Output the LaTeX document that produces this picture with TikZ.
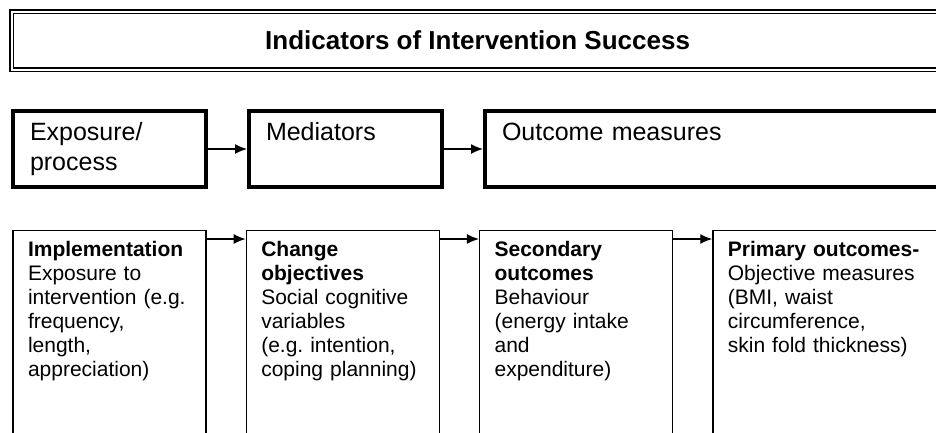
\documentclass[tikz,border=0pt]{standalone}
\usepackage{fontspec}
\setmainfont{Liberation Sans}
\usetikzlibrary{positioning, arrows.meta}
\tikzstyle{header} = [rectangle, draw=black, line width=1.2pt, double, double distance=2pt, minimum width=932pt, minimum height=58pt, inner sep=0pt, font=\bfseries\fontsize{26}{30}\selectfont]
\tikzstyle{stage} = [rectangle, draw=black, line width=4pt, minimum width=193pt, text width=159pt, inner xsep=17pt, inner ysep=0pt, text height=29pt, text depth=47pt, align=left, font=\frenchspacing\fontsize{25}{30}\selectfont]
\tikzstyle{indicator} = [rectangle, draw=black, line width=1.3pt, minimum width=193pt, text width=163pt, inner xsep=15pt, inner ysep=0pt, text height=26pt, text depth=220pt, align=left, font=\frenchspacing\fontsize{21}{24}\selectfont]
\tikzstyle{arrow} = [-{Latex[length=12pt,width=10pt]}, line width=1.4pt]
\begin{document}
\begin{tikzpicture}[x=1pt, y=1pt]
	\useasboundingbox (0,0) rectangle (936,-432);
	\node (title) [header, anchor=north west] at (11,-11) {Indicators of Intervention Success};
	
	\node (exp) [stage, anchor=north west] at (11,-109) {Exposure/\\process};
	\node (med) [stage, right=39pt of exp] {Mediators};
	\node (out) [stage, right=39pt of med, text width=480pt] {Outcome measures};
	
	\node (impl) [indicator, below=41pt of exp] {\textbf{Implementation}\\Exposure to\\intervention (e.g.\\frequency,\\length,\\appreciation)};
	\node (chg) [indicator, right=39pt of impl] {\textbf{Change}\\\textbf{objectives}\\Social cognitive\\variables\\(e.g. intention,\\coping planning)};
	\node (sec) [indicator, right=39pt of chg] {\textbf{Secondary}\\\textbf{outcomes}\\Behaviour\\(energy intake\\and\\expenditure)};
	\node (prim) [indicator, right=39pt of sec, text width=260pt] {\textbf{Primary outcomes-}\\Objective measures\\(BMI, waist\\circumference,\\skin fold thickness)};
	
	\draw [arrow](exp) -- (med);
	\draw [arrow](med) -- (out);
	\draw [arrow]([yshift=-9pt]impl.north east) -- ([yshift=-9pt]chg.north west);
	\draw [arrow]([yshift=-9pt]chg.north east) -- ([yshift=-9pt]sec.north west);
	\draw [arrow]([yshift=-9pt]sec.north east) -- ([yshift=-9pt]prim.north west);
\end{tikzpicture}
\end{document}
